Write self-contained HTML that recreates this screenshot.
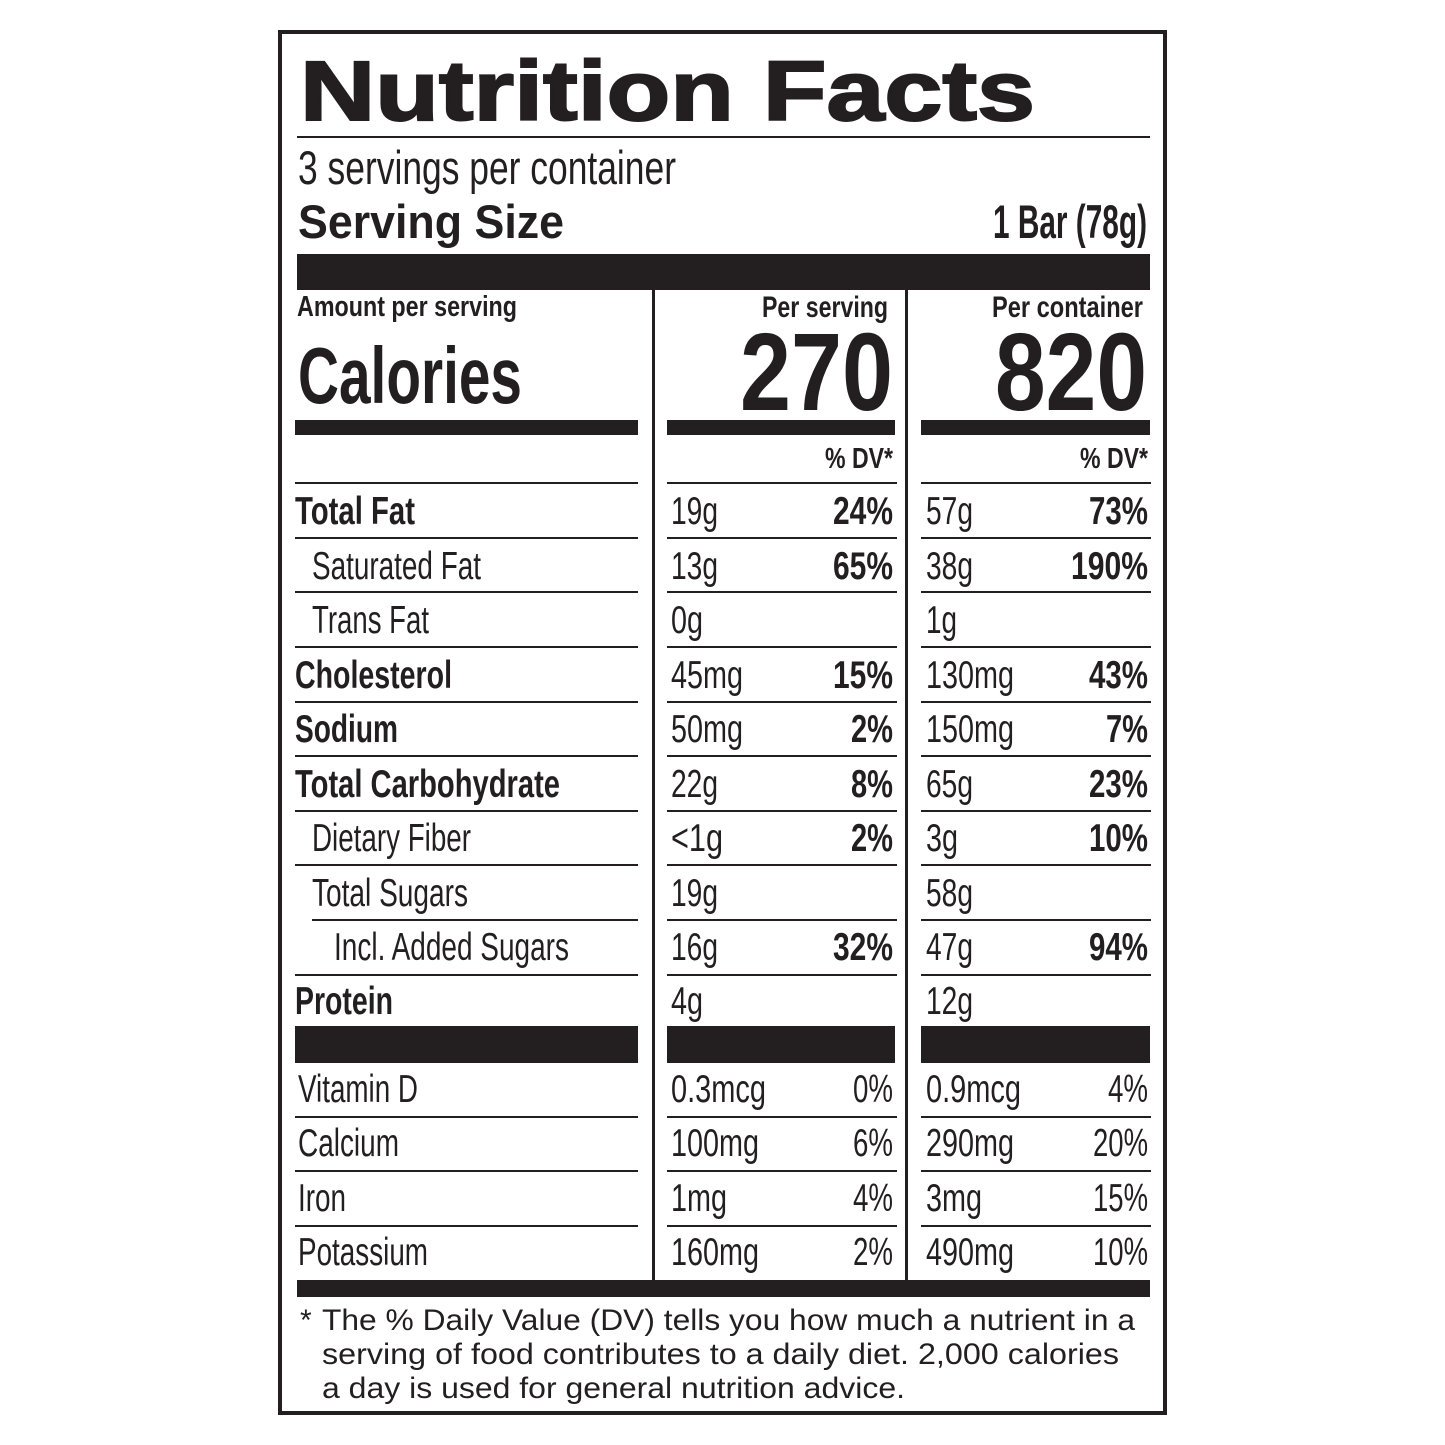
<!DOCTYPE html>
<html><head><meta charset="utf-8"><style>html,body{margin:0;padding:0;background:#fff}svg{display:block}text{font-family:"Liberation Sans",sans-serif;fill:#231f20}.b{font-weight:bold}</style></head>
<body>
<svg width="1445" height="1445" viewBox="0 0 1445 1445" xmlns="http://www.w3.org/2000/svg">
<g fill="#231f20">
<rect x="278" y="30" width="889" height="4"/>
<rect x="278" y="1411" width="889" height="4"/>
<rect x="278" y="30" width="4" height="1385"/>
<rect x="1163" y="30" width="4" height="1385"/>
<rect x="297" y="136" width="853" height="2"/>
<rect x="297" y="254" width="853" height="36"/>
<rect x="652" y="290" width="3" height="990"/>
<rect x="905" y="290" width="3" height="990"/>
<rect x="295" y="420" width="343" height="15"/>
<rect x="667" y="420" width="228" height="15"/>
<rect x="921" y="420" width="229" height="15"/>
<rect x="295" y="1026" width="343" height="37"/>
<rect x="667" y="1026" width="228" height="37"/>
<rect x="921" y="1026" width="229" height="37"/>
<rect x="297" y="1280" width="853" height="17"/>
</g>
<g fill="#231f20">
<rect x="295" y="482" width="343" height="2"/><rect x="667" y="482" width="230" height="2"/><rect x="921" y="482" width="230" height="2"/>
<rect x="295" y="537" width="343" height="2"/><rect x="667" y="537" width="230" height="2"/><rect x="921" y="537" width="230" height="2"/>
<rect x="295" y="591" width="343" height="2"/><rect x="667" y="591" width="230" height="2"/><rect x="921" y="591" width="230" height="2"/>
<rect x="295" y="646" width="343" height="2"/><rect x="667" y="646" width="230" height="2"/><rect x="921" y="646" width="230" height="2"/>
<rect x="295" y="701" width="343" height="2"/><rect x="667" y="701" width="230" height="2"/><rect x="921" y="701" width="230" height="2"/>
<rect x="295" y="755" width="343" height="2"/><rect x="667" y="755" width="230" height="2"/><rect x="921" y="755" width="230" height="2"/>
<rect x="295" y="810" width="343" height="2"/><rect x="667" y="810" width="230" height="2"/><rect x="921" y="810" width="230" height="2"/>
<rect x="295" y="864" width="343" height="2"/><rect x="667" y="864" width="230" height="2"/><rect x="921" y="864" width="230" height="2"/>
<rect x="312" y="919" width="326" height="2"/><rect x="667" y="919" width="230" height="2"/><rect x="921" y="919" width="230" height="2"/>
<rect x="295" y="974" width="343" height="2"/><rect x="667" y="974" width="230" height="2"/><rect x="921" y="974" width="230" height="2"/>
<rect x="295" y="1116" width="343" height="2"/><rect x="667" y="1116" width="230" height="2"/><rect x="921" y="1116" width="230" height="2"/>
<rect x="295" y="1170" width="343" height="2"/><rect x="667" y="1170" width="230" height="2"/><rect x="921" y="1170" width="230" height="2"/>
<rect x="295" y="1225" width="343" height="2"/><rect x="667" y="1225" width="230" height="2"/><rect x="921" y="1225" width="230" height="2"/>
</g>
<text class="b" x="300" y="120" font-size="84" textLength="735" lengthAdjust="spacingAndGlyphs" stroke="#231f20" stroke-width="2">Nutrition Facts</text>
<text x="298" y="184" font-size="47" textLength="378" lengthAdjust="spacingAndGlyphs">3 servings per container</text>
<text class="b" x="298" y="238" font-size="47" textLength="266" lengthAdjust="spacingAndGlyphs">Serving Size</text>
<text class="b" x="993" y="238" font-size="47" textLength="154" lengthAdjust="spacingAndGlyphs">1 Bar (78g)</text>
<text class="b" x="297" y="316" font-size="29" textLength="220" lengthAdjust="spacingAndGlyphs">Amount per serving</text>
<text class="b" x="762" y="317" font-size="30" textLength="126" lengthAdjust="spacingAndGlyphs">Per serving</text>
<text class="b" x="992" y="317" font-size="30" textLength="151" lengthAdjust="spacingAndGlyphs">Per container</text>
<text class="b" x="298" y="403" font-size="80" textLength="224" lengthAdjust="spacingAndGlyphs">Calories</text>
<text class="b" x="740" y="410" font-size="110" textLength="153" lengthAdjust="spacingAndGlyphs">270</text>
<text class="b" x="995" y="410" font-size="110" textLength="152" lengthAdjust="spacingAndGlyphs">820</text>
<text class="b" x="825" y="468" font-size="29" textLength="68" lengthAdjust="spacingAndGlyphs">% DV*</text>
<text class="b" x="1080" y="468" font-size="29" textLength="68" lengthAdjust="spacingAndGlyphs">% DV*</text>
<g font-size="39">
<text class="b" x="295" y="524" textLength="120" lengthAdjust="spacingAndGlyphs">Total Fat</text>
<text x="312" y="579" textLength="169" lengthAdjust="spacingAndGlyphs">Saturated Fat</text>
<text x="312" y="633" textLength="117" lengthAdjust="spacingAndGlyphs">Trans Fat</text>
<text class="b" x="295" y="688" textLength="157" lengthAdjust="spacingAndGlyphs">Cholesterol</text>
<text class="b" x="295" y="742" textLength="103" lengthAdjust="spacingAndGlyphs">Sodium</text>
<text class="b" x="295" y="797" textLength="265" lengthAdjust="spacingAndGlyphs">Total Carbohydrate</text>
<text x="312" y="851" textLength="159" lengthAdjust="spacingAndGlyphs">Dietary Fiber</text>
<text x="312" y="906" textLength="156" lengthAdjust="spacingAndGlyphs">Total Sugars</text>
<text x="334" y="960" textLength="235" lengthAdjust="spacingAndGlyphs">Incl. Added Sugars</text>
<text class="b" x="295" y="1014" textLength="98" lengthAdjust="spacingAndGlyphs">Protein</text>
<text x="298" y="1102" textLength="120" lengthAdjust="spacingAndGlyphs">Vitamin D</text>
<text x="298" y="1156" textLength="101" lengthAdjust="spacingAndGlyphs">Calcium</text>
<text x="298" y="1211" textLength="48" lengthAdjust="spacingAndGlyphs">Iron</text>
<text x="298" y="1265" textLength="130" lengthAdjust="spacingAndGlyphs">Potassium</text>
</g>
<g font-size="39">
<text x="671" y="524" textLength="47" lengthAdjust="spacingAndGlyphs">19g</text>
<text x="671" y="579" textLength="47" lengthAdjust="spacingAndGlyphs">13g</text>
<text x="671" y="633" textLength="32" lengthAdjust="spacingAndGlyphs">0g</text>
<text x="671" y="688" textLength="72" lengthAdjust="spacingAndGlyphs">45mg</text>
<text x="671" y="742" textLength="72" lengthAdjust="spacingAndGlyphs">50mg</text>
<text x="671" y="797" textLength="47" lengthAdjust="spacingAndGlyphs">22g</text>
<text x="671" y="851" textLength="52" lengthAdjust="spacingAndGlyphs">&lt;1g</text>
<text x="671" y="906" textLength="47" lengthAdjust="spacingAndGlyphs">19g</text>
<text x="671" y="960" textLength="47" lengthAdjust="spacingAndGlyphs">16g</text>
<text x="671" y="1014" textLength="32" lengthAdjust="spacingAndGlyphs">4g</text>
<text x="671" y="1102" textLength="95" lengthAdjust="spacingAndGlyphs">0.3mcg</text>
<text x="671" y="1156" textLength="88" lengthAdjust="spacingAndGlyphs">100mg</text>
<text x="671" y="1211" textLength="56" lengthAdjust="spacingAndGlyphs">1mg</text>
<text x="671" y="1265" textLength="88" lengthAdjust="spacingAndGlyphs">160mg</text>
<text x="926" y="524" textLength="47" lengthAdjust="spacingAndGlyphs">57g</text>
<text x="926" y="579" textLength="47" lengthAdjust="spacingAndGlyphs">38g</text>
<text x="926" y="633" textLength="31" lengthAdjust="spacingAndGlyphs">1g</text>
<text x="926" y="688" textLength="88" lengthAdjust="spacingAndGlyphs">130mg</text>
<text x="926" y="742" textLength="88" lengthAdjust="spacingAndGlyphs">150mg</text>
<text x="926" y="797" textLength="47" lengthAdjust="spacingAndGlyphs">65g</text>
<text x="926" y="851" textLength="32" lengthAdjust="spacingAndGlyphs">3g</text>
<text x="926" y="906" textLength="47" lengthAdjust="spacingAndGlyphs">58g</text>
<text x="926" y="960" textLength="47" lengthAdjust="spacingAndGlyphs">47g</text>
<text x="926" y="1014" textLength="47" lengthAdjust="spacingAndGlyphs">12g</text>
<text x="926" y="1102" textLength="95" lengthAdjust="spacingAndGlyphs">0.9mcg</text>
<text x="926" y="1156" textLength="88" lengthAdjust="spacingAndGlyphs">290mg</text>
<text x="926" y="1211" textLength="56" lengthAdjust="spacingAndGlyphs">3mg</text>
<text x="926" y="1265" textLength="88" lengthAdjust="spacingAndGlyphs">490mg</text>
</g>
<g font-size="39" lengthAdjust="spacingAndGlyphs">
<text class="b" x="833" y="524" textLength="60" lengthAdjust="spacingAndGlyphs">24%</text>
<text class="b" x="833" y="579" textLength="60" lengthAdjust="spacingAndGlyphs">65%</text>
<text class="b" x="833" y="688" textLength="60" lengthAdjust="spacingAndGlyphs">15%</text>
<text class="b" x="851" y="742" textLength="42" lengthAdjust="spacingAndGlyphs">2%</text>
<text class="b" x="851" y="797" textLength="42" lengthAdjust="spacingAndGlyphs">8%</text>
<text class="b" x="851" y="851" textLength="42" lengthAdjust="spacingAndGlyphs">2%</text>
<text class="b" x="833" y="960" textLength="60" lengthAdjust="spacingAndGlyphs">32%</text>
<text x="853" y="1102" textLength="40" lengthAdjust="spacingAndGlyphs">0%</text>
<text x="853" y="1156" textLength="40" lengthAdjust="spacingAndGlyphs">6%</text>
<text x="853" y="1211" textLength="40" lengthAdjust="spacingAndGlyphs">4%</text>
<text x="853" y="1265" textLength="40" lengthAdjust="spacingAndGlyphs">2%</text>
<text class="b" x="1089" y="524" textLength="59" lengthAdjust="spacingAndGlyphs">73%</text>
<text class="b" x="1071" y="579" textLength="77" lengthAdjust="spacingAndGlyphs">190%</text>
<text class="b" x="1089" y="688" textLength="59" lengthAdjust="spacingAndGlyphs">43%</text>
<text class="b" x="1106" y="742" textLength="42" lengthAdjust="spacingAndGlyphs">7%</text>
<text class="b" x="1089" y="797" textLength="59" lengthAdjust="spacingAndGlyphs">23%</text>
<text class="b" x="1089" y="851" textLength="59" lengthAdjust="spacingAndGlyphs">10%</text>
<text class="b" x="1089" y="960" textLength="59" lengthAdjust="spacingAndGlyphs">94%</text>
<text x="1108" y="1102" textLength="40" lengthAdjust="spacingAndGlyphs">4%</text>
<text x="1093" y="1156" textLength="55" lengthAdjust="spacingAndGlyphs">20%</text>
<text x="1093" y="1211" textLength="55" lengthAdjust="spacingAndGlyphs">15%</text>
<text x="1093" y="1265" textLength="55" lengthAdjust="spacingAndGlyphs">10%</text>
</g>
<g font-size="30">
<text x="300" y="1330">*</text>
<text x="322" y="1330" textLength="813" lengthAdjust="spacingAndGlyphs">The % Daily Value (DV) tells you how much a nutrient in a</text>
<text x="322" y="1364" textLength="797" lengthAdjust="spacingAndGlyphs">serving of food contributes to a daily diet. 2,000 calories</text>
<text x="322" y="1398" textLength="583" lengthAdjust="spacingAndGlyphs">a day is used for general nutrition advice.</text>
</g>
</svg>
</body></html>
